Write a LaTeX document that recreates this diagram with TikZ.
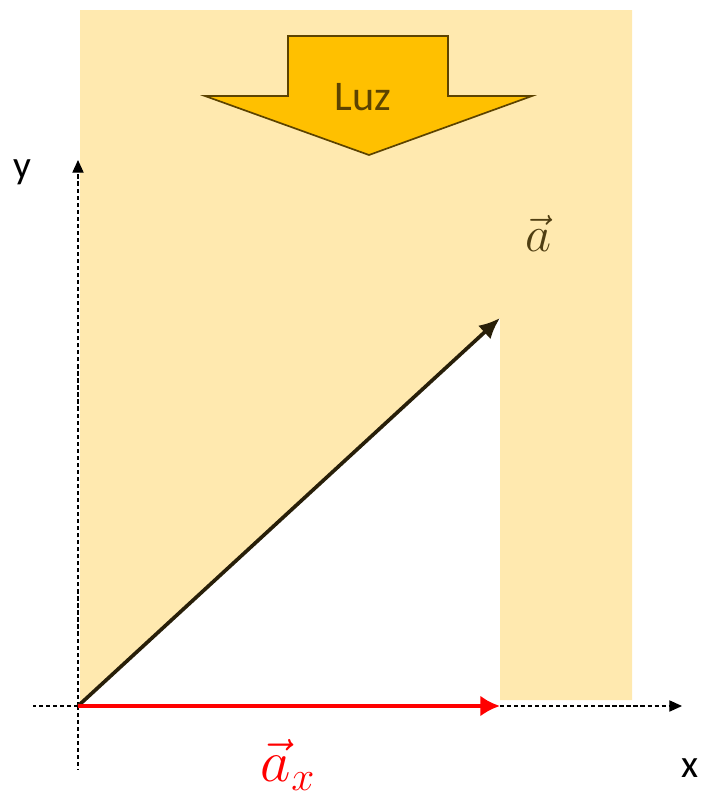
\documentclass[tikz,border=0pt]{standalone}
\usepackage{fix-cm}
\usepackage{fontspec}
\setsansfont{Carlito}
\usetikzlibrary{arrows.meta}
\usetikzlibrary{positioning}
\definecolor{luzfondo}{HTML}{FFE9AF}
\definecolor{luzflecha}{HTML}{FFC000}
\definecolor{luzborde}{HTML}{5C4300}
\definecolor{vecbrown}{HTML}{4F3E12}

\begin{document}
\begin{tikzpicture}[x=0.025cm, y=-0.025cm, >=Latex,
		eje/.style={densely dashed, line width=0.8pt, -{Triangle[length=9pt,width=8pt]}},
		etiqueta/.style={font=\sffamily\fontsize{28}{28}\selectfont}]
		\useasboundingbox (0,0) rectangle (702,810);
		% zona iluminada
		\fill[luzfondo] (80,10) -- (632,10) -- (632,700) -- (500,700) -- (500,318) -- (80,705) -- cycle;
		% flecha de luz
		\draw[fill=luzflecha, draw=luzborde, line width=1.2pt, line join=miter]
			(288,36) -- (448,36) -- (448,96) -- (532,96) -- (369,155) -- (205,96) -- (288,96) -- cycle;
		\node[font=\sffamily\fontsize{30}{30}\selectfont, text=luzborde] (luz) at (363,97) {Luz};
		% ejes
		\coordinate (O) at (78,706);
		\coordinate (xizq) at (33,706);
		\coordinate (xder) at (682,706);
		\coordinate (yabj) at (78,770);
		\coordinate (yarr) at (78,160);
		\draw[densely dashed, line width=0.8pt] (O) -- (xizq);
		\draw[densely dashed, line width=0.8pt] (O) -- (yabj);
		\draw[eje] (O) -- (xder);
		\draw[eje] (O) -- (yarr);
		\node[etiqueta] (ey) at (22,172) {y};
		\node[etiqueta] (ex) at (690,768) {x};
		% vectores
		\coordinate (A) at (500,318);
		\coordinate (Ax) at (500,706);
		\draw[line width=2.6pt, vecbrown!50!black, -{Latex[length=15pt,width=13pt]}] (O) -- (A);
		\draw[line width=3.4pt, red, -{Latex[length=14pt,width=15pt]}] (O) -- (Ax);
		\node[text=vecbrown, font=\fontsize{36}{36}\selectfont] (va) at (538,233) {$\vec{a}$};
		\node[text=red, font=\fontsize{42}{42}\selectfont] (vax) at (288,765) {$\vec{a}_x$};
	\end{tikzpicture}
\end{document}
